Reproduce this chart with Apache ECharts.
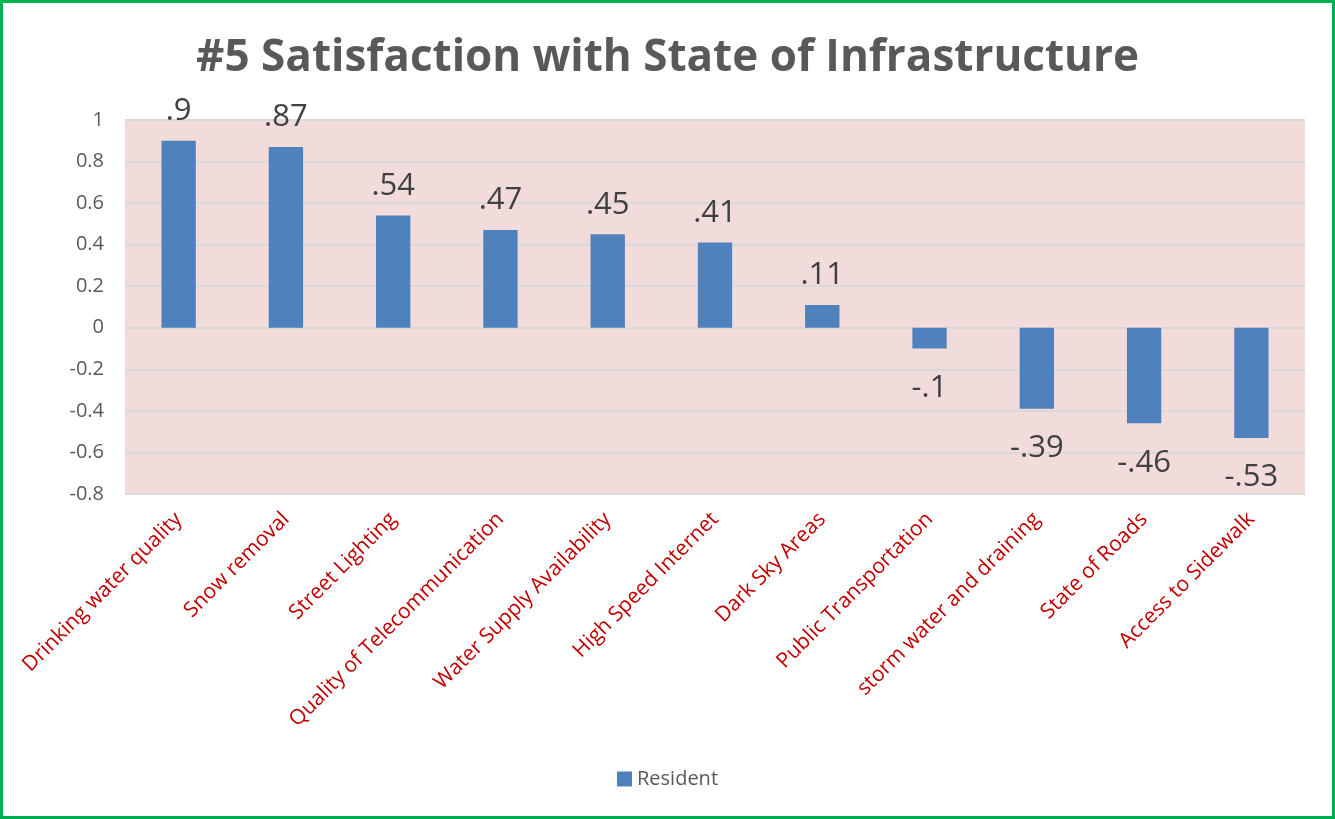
<!DOCTYPE html>
<html>
<head>
<meta charset="utf-8">
<script src="https://cdn.jsdelivr.net/npm/echarts@6/dist/echarts.min.js"></script>
<style>
  html, body { margin: 0; padding: 0; background: #fff; }
  #chart { width: 1335px; height: 819px; box-sizing: border-box; border: 3px solid #00b050; }
</style>
</head>
<body>
<div id="chart"></div>
<script>
// chart data
let categories = ['Drinking water quality', 'Snow removal', 'Street Lighting', 'Quality of Telecommunication',
    'Water Supply Availability', 'High Speed Internet', 'Dark Sky Areas', 'Public Transportation',
    'storm water and draining', 'State of Roads', 'Access to Sidewalk'];
let residentValues = [0.9, 0.87, 0.54, 0.47, 0.45, 0.41, 0.11, -0.1, -0.39, -0.46, -0.53];
let yTicks = [-0.8, -0.6, -0.4, -0.2, 0, 0.2, 0.4, 0.6, 0.8, 1];

let font = "'Open Sans', sans-serif";
let chart = echarts.init(document.getElementById('chart'));

// excel style labels: ".87", "-.1"
let shortNum = function (v) {
    return String(v).replace('0.', '.');
};

chart.setOption({
    animation: false,
    title: {
        text: '#5 Satisfaction with State of Infrastructure',
        left: 'center',
        top: 28,
        textStyle: {fontFamily: font, fontSize: 44, fontWeight: 'bold', color: '#595959'}
    },
    legend: {
        bottom: 22,
        left: 'center',
        icon: 'rect',
        itemWidth: 15,
        itemHeight: 15,
        itemGap: 6,
        textStyle: {fontFamily: font, fontSize: 20, color: '#595959'},
        data: ['Resident']
    },
    grid: {
        left: 122, right: 27, top: 117, bottom: 322,
        show: true, backgroundColor: '#f2dcdb', borderWidth: 0,
        containLabel: false
    },
    xAxis: {
        type: 'category',
        data: categories,
        position: 'bottom',
        axisLine: {show: false, onZero: false},
        axisTick: {show: false},
        axisLabel: {
            rotate: 45, interval: 0, margin: 22,
            fontFamily: font, fontSize: 21, color: '#c00000'
        }
    },
    yAxis: {
        type: 'value',
        min: yTicks[0], max: yTicks[yTicks.length - 1], interval: 0.2,
        axisLine: {show: false},
        axisTick: {show: false},
        axisLabel: {
            margin: 21, fontFamily: font, fontSize: 20, color: '#595959',
            formatter: function (v) { return String(Math.round(v * 10) / 10); }
        },
        splitLine: {lineStyle: {color: '#d9d9d9', width: 2}}
    },
    series: [{
        name: 'Resident',
        type: 'bar',
        data: residentValues.map(function (v) {
            // negative labels sit a bit further from the bar end
            return {value: v, label: {distance: v < 0 ? 24 : 14}};
        }),
        barWidth: '32%',
        itemStyle: {color: '#4f81bd'},
        label: {
            show: true,
            position: 'outside',
            fontFamily: font, fontSize: 31, color: '#404040',
            formatter: function (p) { return shortNum(p.value); }
        }
    }]
});
</script>
</body>
</html>
